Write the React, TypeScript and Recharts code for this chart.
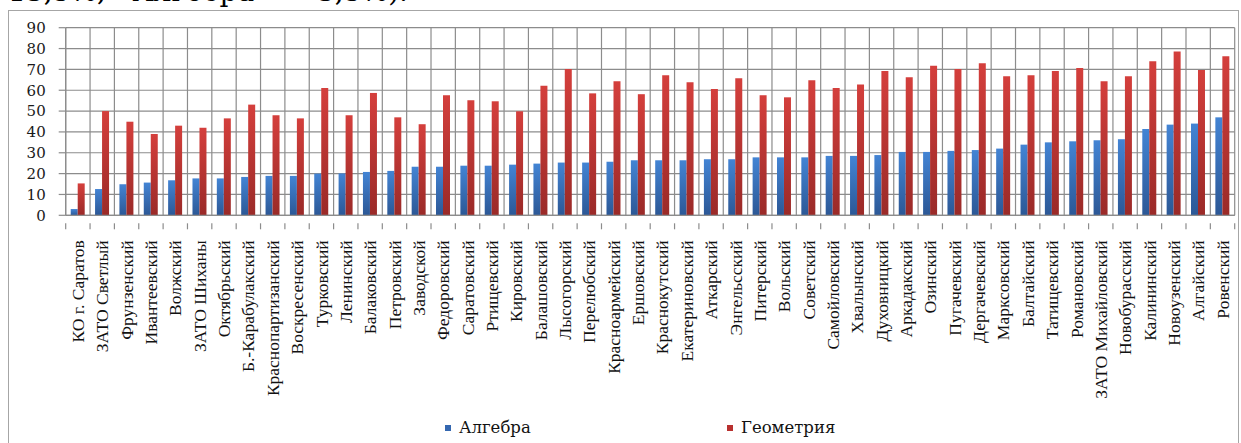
import React from "react";
import {
    BarChart,
    Bar,
    XAxis,
    YAxis,
    CartesianGrid,
    Legend,
} from "recharts";

// districts, sorted by the algebra share
const categories = [
    "КО г. Саратов", "ЗАТО Светлый", "Фрунзенский", "Ивантеевский", "Волжский",
    "ЗАТО Шиханы", "Октябрьский", "Б.-Карабулакский", "Краснопартизанский", "Воскресенский",
    "Турковский", "Ленинский", "Балаковский", "Петровский", "Заводской",
    "Федоровский", "Саратовский", "Ртищевский", "Кировский", "Балашовский",
    "Лысогорский", "Перелюбский", "Красноармейский", "Ершовский", "Краснокутский",
    "Екатериновский", "Аткарский", "Энгельсский", "Питерский", "Вольский",
    "Советский", "Самойловский", "Хвалынский", "Духовницкий", "Аркадакский",
    "Озинский", "Пугачевский", "Дергачевский", "Марксовский", "Балтайский",
    "Татищевский", "Романовский", "ЗАТО Михайловский", "Новобурасский", "Калининский",
    "Новоузенский", "Алгайский", "Ровенский",
];

const algebra = [
    3.0, 12.6, 14.9, 15.7, 16.8, 17.7, 17.7, 18.4, 18.9, 18.9,
    20.0, 20.1, 20.8, 21.3, 23.3, 23.3, 23.8, 23.8, 24.3, 24.8,
    25.3, 25.3, 25.7, 26.4, 26.4, 26.4, 26.9, 26.9, 27.8, 27.8,
    27.8, 28.5, 28.5, 28.9, 30.4, 30.4, 30.9, 31.3, 32.0, 33.9,
    35.0, 35.5, 36.0, 36.5, 41.4, 43.5, 44.0, 47.0,
];

const geometry = [
    15.3, 50.0, 44.9, 39.0, 43.0, 42.0, 46.5, 53.1, 48.0, 46.5,
    61.1, 48.0, 58.7, 47.0, 43.7, 57.6, 55.2, 54.7, 49.9, 62.2,
    70.2, 58.5, 64.3, 58.1, 67.2, 63.8, 60.6, 65.7, 57.6, 56.6,
    64.8, 61.1, 62.7, 69.2, 66.2, 71.8, 70.2, 72.9, 66.7, 67.2,
    69.2, 70.7, 64.3, 66.7, 73.9, 78.6, 69.7, 76.3,
];

const yTicks = [0, 10, 20, 30, 40, 50, 60, 70, 80, 90];

const chartData = categories.map((name, i) => ({
    name,
    algebra: algebra[i],
    geometry: geometry[i],
}));

const gridColor = "#8c8c8c";

// rotated label plus a tick mark on the left edge of each category
const CategoryTick = (props: any) => {
    const { x, y, payload, index } = props;
    const half = payload && payload.offset ? payload.offset : 12.2;
    const last = index === categories.length - 1;
    return (
        <g>
            <line x1={x - half} y1={y} x2={x - half} y2={y + 6} stroke={gridColor} strokeWidth={1.2} />
            {last && (
                <line x1={x + half} y1={y} x2={x + half} y2={y + 6} stroke={gridColor} strokeWidth={1.2} />
            )}
            <text
                x={x}
                y={y + 17}
                transform={`rotate(-90, ${x}, ${y + 17})`}
                textAnchor="end"
                dy="0.35em"
                fontFamily="'Liberation Serif', serif"
                fontSize={17.5}
                fill="#111"
            >
                {payload.value}
            </text>
        </g>
    );
};

const renderLegend = () => (
    <div style={{ position: "relative", width: 1231, height: 20, fontFamily: "'DejaVu Serif', serif", fontSize: 16.5, color: "#111" }}>
        <div style={{ position: "absolute", left: 437, top: 7, width: 6, height: 6, background: "#3467b0" }} />
        <div style={{ position: "absolute", left: 451, top: 0, lineHeight: "20px" }}>Алгебра</div>
        <div style={{ position: "absolute", left: 719, top: 7, width: 6, height: 6, background: "#b8302e" }} />
        <div style={{ position: "absolute", left: 733, top: 0, lineHeight: "20px" }}>Геометрия</div>
    </div>
);

const App = () => {
    return (
        <div style={{ position: "absolute", left: 0, top: 0, width: 1241, height: 443, overflow: "hidden", background: "#fff" }}>
            {/* tail of the paragraph above the figure */}
            <div style={{ position: "absolute", left: 8, top: 0, height: 9, width: 600, overflow: "hidden" }}>
                <div style={{ position: "absolute", left: 0, top: -23, fontFamily: "'DejaVu Serif', serif", fontSize: 28, lineHeight: "30px", whiteSpace: "nowrap", color: "#000" }}>
                    13,5%; «Алгебра» — 3,5%).
                </div>
            </div>
            <div style={{ position: "absolute", left: 8, top: 10, width: 1231, height: 440, border: "1px solid #a6a6a6", boxSizing: "border-box" }} />
            <div style={{ position: "absolute", left: 8, top: 10 }}>
                <BarChart
                    width={1231}
                    height={433}
                    data={chartData}
                    margin={{ top: 17.7, right: 4.3, left: 0, bottom: 5 }}
                    barGap={0}
                >
                    <defs>
                        <linearGradient id="gradBlue" x1="0" y1="0" x2="0" y2="1">
                            <stop offset="0%" stopColor="#4384d4" />
                            <stop offset="100%" stopColor="#2c5896" />
                        </linearGradient>
                        <linearGradient id="gradRed" x1="0" y1="0" x2="0" y2="1">
                            <stop offset="0%" stopColor="#d43f3c" />
                            <stop offset="100%" stopColor="#9a2a28" />
                        </linearGradient>
                    </defs>
                    <CartesianGrid
                        stroke={gridColor}
                        strokeWidth={1.2}
                        verticalCoordinatesGenerator={({ offset }: any) =>
                            Array.from({ length: categories.length + 1 }, (_, i) =>
                                offset.left + (i * offset.width) / categories.length
                            )
                        }
                    />
                    <XAxis
                        dataKey="name"
                        interval={0}
                        height={202.7}
                        tickLine={false}
                        axisLine={{ stroke: gridColor, strokeWidth: 1.2 }}
                        tick={<CategoryTick />}
                    />
                    <YAxis
                        domain={[0, 90]}
                        ticks={yTicks}
                        interval={0}
                        width={57.7}
                        tickSize={7}
                        tickMargin={13}
                        tickLine={{ stroke: gridColor, strokeWidth: 1.2 }}
                        axisLine={{ stroke: gridColor, strokeWidth: 1.2 }}
                        tick={{ fontFamily: "'DejaVu Serif', serif", fontSize: 15, fill: "#1a1a1a" }}
                    />
                    <Legend
                        verticalAlign="bottom"
                        content={renderLegend}
                        wrapperStyle={{ left: 0, width: 1231, height: 20 }}
                    />
                    <Bar dataKey="algebra" name="Алгебра" fill="url(#gradBlue)" barSize={7} isAnimationActive={false} />
                    <Bar dataKey="geometry" name="Геометрия" fill="url(#gradRed)" barSize={7} isAnimationActive={false} />
                </BarChart>
            </div>
        </div>
    );
};

export default App;
